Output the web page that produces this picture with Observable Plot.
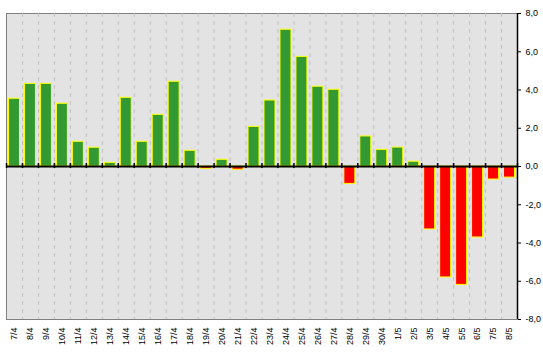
<!DOCTYPE html>
<html>
<head>
<meta charset="utf-8">
<script src="https://cdn.jsdelivr.net/npm/d3@7"></script>
<script src="https://cdn.jsdelivr.net/npm/@observablehq/plot@0.6"></script>
<style>
  html, body { margin: 0; padding: 0; background: #ffffff; }
  #chart svg { display: block; }
</style>
</head>
<body>
<div id="chart"></div>
<script>
const categories = ["7/4","8/4","9/4","10/4","11/4","12/4","13/4","14/4","15/4","16/4","17/4","18/4","19/4","20/4","21/4","22/4","23/4","24/4","25/4","26/4","27/4","28/4","29/4","30/4","1/5","2/5","3/5","4/5","5/5","6/5","7/5","8/5"];
const values = [3.54,4.32,4.32,3.28,1.29,0.98,0.19,3.59,1.29,2.70,4.43,0.82,-0.12,0.35,-0.17,2.07,3.45,7.15,5.73,4.17,4.01,-0.91,1.57,0.87,0.99,0.25,-3.29,-5.80,-6.19,-3.71,-0.68,-0.58];
const yTicks = [-8,-6,-4,-2,0,2,4,6,8];

const data = categories.map((c, i) => ({cat: c, v: values[i]}));

const W = 543, H = 352, mL = 6, mR = 26, mT = 13, mB = 33;
const half = (W - mL - mR) / categories.length / 2;
const font = "Liberation Sans, Arial, sans-serif";

const chart = Plot.plot({
  width: W, height: H,
  marginLeft: mL, marginRight: mR, marginTop: mT, marginBottom: mB,
  style: {background: "#ffffff", fontFamily: font},
  x: {domain: categories, padding: 0, round: false, label: null},
  y: {domain: [-8, 8], label: null},
  marks: [
    Plot.frame({fill: "#e3e3e3", stroke: "#808080"}),
    Plot.ruleX(categories.slice(1), {x: d => d, dx: -half, stroke: "#c0c0c0", strokeDasharray: "4,4"}),
    Plot.barY(data, {x: "cat", y: "v", fill: d => d.v >= 0 ? "#339933" : "#ff0000", stroke: "#ffff00", strokeWidth: 1, insetLeft: 2.5, insetRight: 2.5}),
    Plot.ruleY([0], {stroke: "#000000", strokeWidth: 2}),
    Plot.ruleX(categories, {x: d => d, y1: 0, y2: 0, dx: -half, insetTop: -3, insetBottom: -2, stroke: "#000000", strokeWidth: 1.5}),
    Plot.ruleX(categories.slice(-1), {x: d => d, y1: 0, y2: 0, dx: half, insetTop: -3, insetBottom: -2, stroke: "#000000", strokeWidth: 1.5}),
    Plot.ruleX(categories.slice(-1), {x: d => d, dx: half, stroke: "#000000", strokeWidth: 1.5}),
    Plot.axisX({anchor: "bottom", label: null, tickSize: 0, tickPadding: 8, tickRotate: -90, fontSize: 9, fill: "#000000"}),
    Plot.axisY({anchor: "right", label: null, ticks: yTicks, tickFormat: d => d.toFixed(1).replace(".", ","), tickSize: 3, tickPadding: 5, fontSize: 9, stroke: "#000000", fill: "#000000"})
  ]
});
document.getElementById("chart").appendChild(chart);
</script>
</body>
</html>
